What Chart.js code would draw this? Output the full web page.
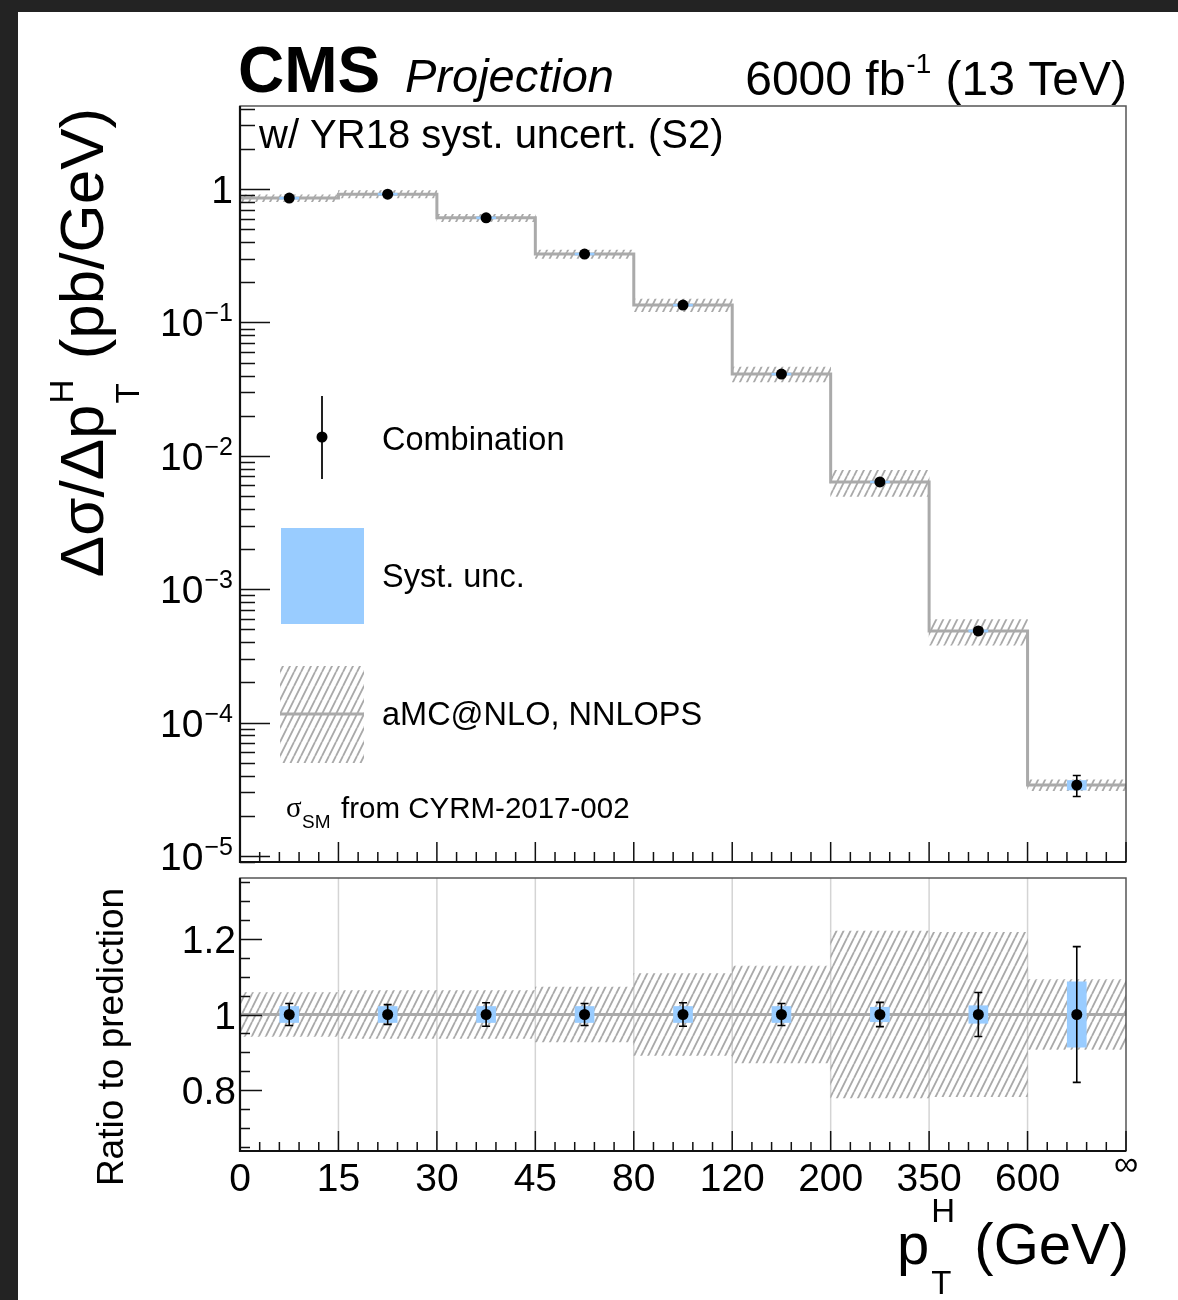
<!DOCTYPE html>
<html>
<head>
<meta charset="utf-8">
<script src="https://cdn.jsdelivr.net/npm/chart.js@4.4.1/dist/chart.umd.min.js"></script>
<style>
  html, body { margin: 0; padding: 0; background: #fff; }
  #page { position: relative; width: 1178px; height: 1300px; background: #fff; overflow: hidden; }
  #page canvas { position: absolute; left: 0; top: 0; }
  #darkTop { position: absolute; left: 0; top: 0; width: 1178px; height: 12px; background: #232323; }
  #darkLeft { position: absolute; left: 0; top: 0; width: 18px; height: 1300px; background: #232323; }
</style>
</head>
<body>
<div id="page">
  <canvas id="ratioChart" width="1178" height="1300"></canvas>
  <canvas id="mainChart" width="1178" height="1300"></canvas>
  <div id="darkTop"></div>
  <div id="darkLeft"></div>
</div>
<script>
// pT(H) differential cross section, CMS projection 6000 fb-1

const FONT = '"Liberation Sans", Arial, Helvetica, sans-serif';

// bin edges as printed on the x axis
const binLabels = ['0', '15', '30', '45', '80', '120', '200', '350', '600', '\u221E'];
// measured cross sections (pb/GeV) and prediction
const xsecData = [0.856, 0.917, 0.609, 0.326, 0.135, 0.041, 0.00637, 0.000486, 0.000034];
const xsecPred = [0.856, 0.917, 0.609, 0.326, 0.135, 0.041, 0.00637, 0.000486, 0.000034];
// ratio panel
const ratioData = [1, 1, 1, 1, 1, 1, 1, 1, 1];
const ratioPred = [1, 1, 1, 1, 1, 1, 1, 1, 1];
// relative uncertainties
const predRelUnc = [0.058, 0.063, 0.063, 0.072, 0.108, 0.128, 0.220, 0.217, 0.092];
const systRelUnc = [0.022, 0.022, 0.022, 0.022, 0.022, 0.022, 0.020, 0.024, 0.087];
const totRelUnc  = [0.029, 0.026, 0.031, 0.029, 0.031, 0.029, 0.032, 0.058, 0.179];
// axis ticks
const logTicks = [1, 0.1, 0.01, 0.001, 0.0001, 0.00001];
const ratioTicks = [0.8, 1, 1.2];

const nBins = xsecData.length;
const centers = xsecData.map((_, i) => i + 0.5);

function makeHatch(ctx) {
    const w = 7, h = 14;
    const c = document.createElement('canvas');
    c.width = w; c.height = h;
    const g = c.getContext('2d');
    g.strokeStyle = '#a9a9a9';
    g.lineWidth = 1.8;
    g.beginPath();
    for (let k = -1; k <= 1; k++) {
        g.moveTo(k * w, h);
        g.lineTo(k * w + w, 0);
    }
    g.stroke();
    return ctx.createPattern(c, 'repeat');
}

function stepLine(values) {
    const pts = values.map((v, i) => ({ x: i, y: v }));
    pts.push({ x: values.length, y: values[values.length - 1] });
    return pts;
}

function band(values, rel) {
    return values.map((v, i) => ({ x: centers[i], y: [v * (1 - rel[i]), v * (1 + rel[i])] }));
}

function errorBarPlugin(values, rel) {
    return {
        id: 'errorBars',
        afterDatasetsDraw(chart) {
            const { ctx, scales: { x, y } } = chart;
            ctx.save();
            ctx.strokeStyle = '#000';
            ctx.lineWidth = 1.6;
            values.forEach((v, i) => {
                const px = x.getPixelForValue(centers[i]);
                const yHi = y.getPixelForValue(v * (1 + rel[i]));
                const yLo = y.getPixelForValue(v * (1 - rel[i]));
                ctx.beginPath();
                ctx.moveTo(px, yHi); ctx.lineTo(px, yLo);
                ctx.moveTo(px - 4, yHi); ctx.lineTo(px + 4, yHi);
                ctx.moveTo(px - 4, yLo); ctx.lineTo(px + 4, yLo);
                ctx.stroke();
            });
            ctx.restore();
        }
    };
}

function text(ctx, s, x, y, size, opts = {}) {
    ctx.font = (opts.style || '') + ' ' + size + 'px ' + (opts.family || FONT);
    ctx.fillStyle = opts.color || '#000';
    ctx.textAlign = opts.align || 'left';
    ctx.textBaseline = opts.base || 'alphabetic';
    ctx.fillText(s, x, y);
    return ctx.measureText(s).width;
}

function width(ctx, s, size, style) {
    ctx.font = (style || '') + ' ' + size + 'px ' + FONT;
    return ctx.measureText(s).width;
}

function drawFrame(ctx, area) {
    ctx.save();
    ctx.strokeStyle = '#555';
    ctx.lineWidth = 1.5;
    ctx.strokeRect(area.left, area.top, area.right - area.left, area.bottom - area.top);
    ctx.strokeStyle = '#111';
    ctx.lineWidth = 2.2;
    ctx.beginPath();
    ctx.moveTo(area.left, area.top);
    ctx.lineTo(area.left, area.bottom);
    ctx.lineTo(area.right, area.bottom);
    ctx.stroke();
    ctx.restore();
}

function drawXTicks(ctx, chart, major, minor) {
    const x = chart.scales.x, b = chart.chartArea.bottom;
    ctx.save();
    ctx.strokeStyle = '#111';
    ctx.lineWidth = 1.5;
    ctx.beginPath();
    for (let i = 0; i <= nBins; i++) {
        for (let k = 0; k < 5; k++) {
            if (i === nBins && k > 0) break;
            const px = x.getPixelForValue(i + k / 5);
            const len = k === 0 ? major : minor;
            ctx.moveTo(px, b);
            ctx.lineTo(px, b - len);
        }
    }
    ctx.stroke();
    ctx.restore();
}

// ---------------- upper panel ----------------
const mainCtx = document.getElementById('mainChart').getContext('2d');
const hatchMain = makeHatch(mainCtx);

const mainDecor = {
    id: 'mainDecor',
    afterDraw(chart) {
        const ctx = chart.ctx, area = chart.chartArea, y = chart.scales.y;
        drawFrame(ctx, area);
        drawXTicks(ctx, chart, 20, 10);

        // y ticks (log)
        ctx.save();
        ctx.strokeStyle = '#111';
        ctx.lineWidth = 1.5;
        ctx.beginPath();
        for (let e = -6; e <= 1; e++) {
            for (let m = 1; m <= 9; m++) {
                const v = m * Math.pow(10, e);
                if (v < y.min || v > y.max) continue;
                const py = Math.round(y.getPixelForValue(v)) + 0.5;
                ctx.moveTo(area.left, py);
                ctx.lineTo(area.left + (m === 1 ? 30 : 15), py);
            }
        }
        ctx.stroke();
        ctx.restore();

        // y tick labels
        logTicks.forEach(v => {
            const py = y.getPixelForValue(v);
            const exp = Math.round(Math.log10(v));
            if (exp === 0) {
                text(ctx, '1', 233, py + 14, 39, { align: 'right' });
            } else {
                const sup = '\u2212' + (-exp);
                const ws = width(ctx, sup, 25);
                text(ctx, sup, 233 - ws, py - 1, 25);
                text(ctx, '10', 233 - ws - 1, py + 14, 39, { align: 'right' });
            }
        });

        // header
        text(ctx, 'CMS', 238, 92, 64, { style: 'bold' });
        text(ctx, 'Projection', 405, 92, 47, { style: 'italic' });
        const wA = width(ctx, '6000 fb', 48), wS = width(ctx, '-1', 28), wB = width(ctx, ' (13 TeV)', 48);
        let hx = 1127 - (wA + wS + 2 + wB);
        hx += text(ctx, '6000 fb', hx, 95, 48);
        hx += text(ctx, '-1', hx + 1, 73, 28) + 2;
        text(ctx, ' (13 TeV)', hx, 95, 48);

        text(ctx, 'w/ YR18 syst. uncert. (S2)', 259, 148, 40);

        // legend
        ctx.save();
        ctx.strokeStyle = '#222';
        ctx.lineWidth = 2;
        ctx.beginPath();
        ctx.moveTo(322, 396); ctx.lineTo(322, 479);
        ctx.stroke();
        ctx.fillStyle = '#000';
        ctx.beginPath();
        ctx.arc(322, 437, 5.5, 0, Math.PI * 2);
        ctx.fill();
        ctx.fillStyle = '#99ccff';
        ctx.fillRect(281, 528, 83, 96);
        ctx.fillStyle = hatchMain;
        ctx.fillRect(280, 666, 84, 97);
        ctx.strokeStyle = '#aaa';
        ctx.lineWidth = 3;
        ctx.beginPath();
        ctx.moveTo(280, 714); ctx.lineTo(364, 714);
        ctx.stroke();
        ctx.restore();
        text(ctx, 'Combination', 382, 450, 32.5);
        text(ctx, 'Syst. unc.', 382, 587, 32.5);
        text(ctx, 'aMC@NLO, NNLOPS', 382, 725, 32.5);
        text(ctx, '\u03C3', 286, 817, 29, { family: '"Liberation Serif", "Times New Roman", serif' });
        text(ctx, 'SM', 302, 828, 19);
        text(ctx, 'from CYRM-2017-002', 341, 818, 29.5);

        // y title
        ctx.save();
        ctx.translate(103, 343);
        ctx.rotate(-Math.PI / 2);
        const F = 62, S = 33;
        const w1 = width(ctx, '\u0394\u03C3/\u0394p', F);
        const w2 = width(ctx, ' (pb/GeV)', F);
        const wss = Math.max(width(ctx, 'H', S), width(ctx, 'T', S)) + 3;
        let tx = -(w1 + wss + w2) / 2;
        text(ctx, '\u0394\u03C3/\u0394p', tx, 0, F);
        tx += w1 + 1;
        text(ctx, 'H', tx, -30, S);
        text(ctx, 'T', tx, 36, S);
        tx += wss;
        text(ctx, ' (pb/GeV)', tx, 0, F);
        ctx.restore();
    }
};

new Chart(mainCtx, {
    type: 'bar',
    data: {
        datasets: [
            {
                type: 'line',
                label: 'Combination',
                data: xsecData.map((v, i) => ({ x: centers[i], y: v })),
                showLine: false,
                pointRadius: 5.5,
                pointBackgroundColor: '#000',
                pointBorderWidth: 0,
                order: 0
            },
            {
                type: 'bar',
                label: 'Syst. unc.',
                data: band(xsecData, systRelUnc),
                backgroundColor: '#99ccff',
                borderWidth: 0,
                barPercentage: 0.2,
                categoryPercentage: 1,
                grouped: false,
                order: 1
            },
            {
                type: 'line',
                label: 'aMC@NLO, NNLOPS',
                data: stepLine(xsecPred),
                stepped: 'before',
                borderColor: '#aaaaaa',
                borderWidth: 3,
                pointRadius: 0,
                fill: false,
                order: 2
            },
            {
                type: 'bar',
                label: 'pred unc',
                data: band(xsecPred, predRelUnc),
                backgroundColor: hatchMain,
                borderWidth: 0,
                barPercentage: 1,
                categoryPercentage: 1,
                grouped: false,
                order: 3
            }
        ]
    },
    options: {
        responsive: false,
        devicePixelRatio: 1,
        animation: false,
        layout: { padding: { left: 240, right: 52, top: 106, bottom: 438 } },
        plugins: { legend: { display: false }, tooltip: { enabled: false } },
        scales: {
            x: { type: 'linear', min: 0, max: nBins, offset: false, display: false },
            y: { type: 'logarithmic', min: 9e-6, max: 4.2, display: false }
        }
    },
    plugins: [errorBarPlugin(xsecData, totRelUnc), mainDecor]
});

// ---------------- ratio panel ----------------
const ratioCtx = document.getElementById('ratioChart').getContext('2d');
const hatchRatio = makeHatch(ratioCtx);

const ratioDecor = {
    id: 'ratioDecor',
    beforeDatasetsDraw(chart) {
        const ctx = chart.ctx, area = chart.chartArea, x = chart.scales.x;
        ctx.save();
        ctx.strokeStyle = '#d4d4d4';
        ctx.lineWidth = 1.5;
        ctx.beginPath();
        for (let i = 1; i < nBins; i++) {
            const px = x.getPixelForValue(i);
            ctx.moveTo(px, area.top);
            ctx.lineTo(px, area.bottom);
        }
        ctx.stroke();
        ctx.restore();
    },
    afterDraw(chart) {
        const ctx = chart.ctx, area = chart.chartArea, x = chart.scales.x, y = chart.scales.y;
        drawFrame(ctx, area);
        drawXTicks(ctx, chart, 20, 9);

        ctx.save();
        ctx.strokeStyle = '#111';
        ctx.lineWidth = 1.5;
        ctx.beginPath();
        for (let k = 0; k <= 40; k++) {
            const v = 0.4 + k * 0.05;
            if (v < y.min || v > y.max) continue;
            const py = Math.round(y.getPixelForValue(v)) + 0.5;
            const isMajor = Math.abs(v * 5 - Math.round(v * 5)) < 1e-6;
            ctx.moveTo(area.left, py);
            ctx.lineTo(area.left + (isMajor ? 22 : 10), py);
        }
        ctx.stroke();
        ctx.restore();

        ratioTicks.forEach(v => {
            text(ctx, String(v), 236, y.getPixelForValue(v) + 14, 39, { align: 'right' });
        });

        binLabels.forEach((lab, i) => {
            const px = x.getPixelForValue(i);
            if (i === nBins) {
                text(ctx, lab, px, 1175, 34, { align: 'center' });
            } else {
                text(ctx, lab, px, 1191, 39, { align: 'center' });
            }
        });

        // x title
        const F = 58, S = 33;
        const wp = width(ctx, 'p', F), wss = width(ctx, 'H', S) + 3, wr = width(ctx, ' (GeV)', F);
        let tx = 1127 - (wp + wss + wr);
        text(ctx, 'p', tx, 1264, F);
        tx += wp + 2;
        text(ctx, 'H', tx, 1222, S);
        text(ctx, 'T', tx, 1294, S);
        tx += wss;
        text(ctx, ' (GeV)', tx, 1264, F);

        // y title
        ctx.save();
        ctx.translate(123, 1037);
        ctx.rotate(-Math.PI / 2);
        text(ctx, 'Ratio to prediction', 0, 0, 37, { align: 'center' });
        ctx.restore();
    }
};

new Chart(ratioCtx, {
    type: 'bar',
    data: {
        datasets: [
            {
                type: 'line',
                label: 'Combination',
                data: ratioData.map((v, i) => ({ x: centers[i], y: v })),
                showLine: false,
                pointRadius: 5.5,
                pointBackgroundColor: '#000',
                pointBorderWidth: 0,
                order: 0
            },
            {
                type: 'bar',
                label: 'Syst. unc.',
                data: band(ratioData, systRelUnc),
                backgroundColor: '#99ccff',
                borderWidth: 0,
                barPercentage: 0.2,
                categoryPercentage: 1,
                grouped: false,
                order: 1
            },
            {
                type: 'line',
                label: 'prediction',
                data: stepLine(ratioPred),
                stepped: 'before',
                borderColor: '#aaaaaa',
                borderWidth: 3,
                pointRadius: 0,
                fill: false,
                order: 2
            },
            {
                type: 'bar',
                label: 'pred unc',
                data: band(ratioPred, predRelUnc),
                backgroundColor: hatchRatio,
                borderWidth: 0,
                barPercentage: 1,
                categoryPercentage: 1,
                grouped: false,
                order: 3
            }
        ]
    },
    options: {
        responsive: false,
        devicePixelRatio: 1,
        animation: false,
        layout: { padding: { left: 240, right: 52, top: 878, bottom: 149 } },
        plugins: { legend: { display: false }, tooltip: { enabled: false } },
        scales: {
            x: { type: 'linear', min: 0, max: nBins, offset: false, display: false },
            y: { type: 'linear', min: 0.64, max: 1.36, display: false }
        }
    },
    plugins: [errorBarPlugin(ratioData, totRelUnc), ratioDecor]
});
</script>
</body>
</html>
